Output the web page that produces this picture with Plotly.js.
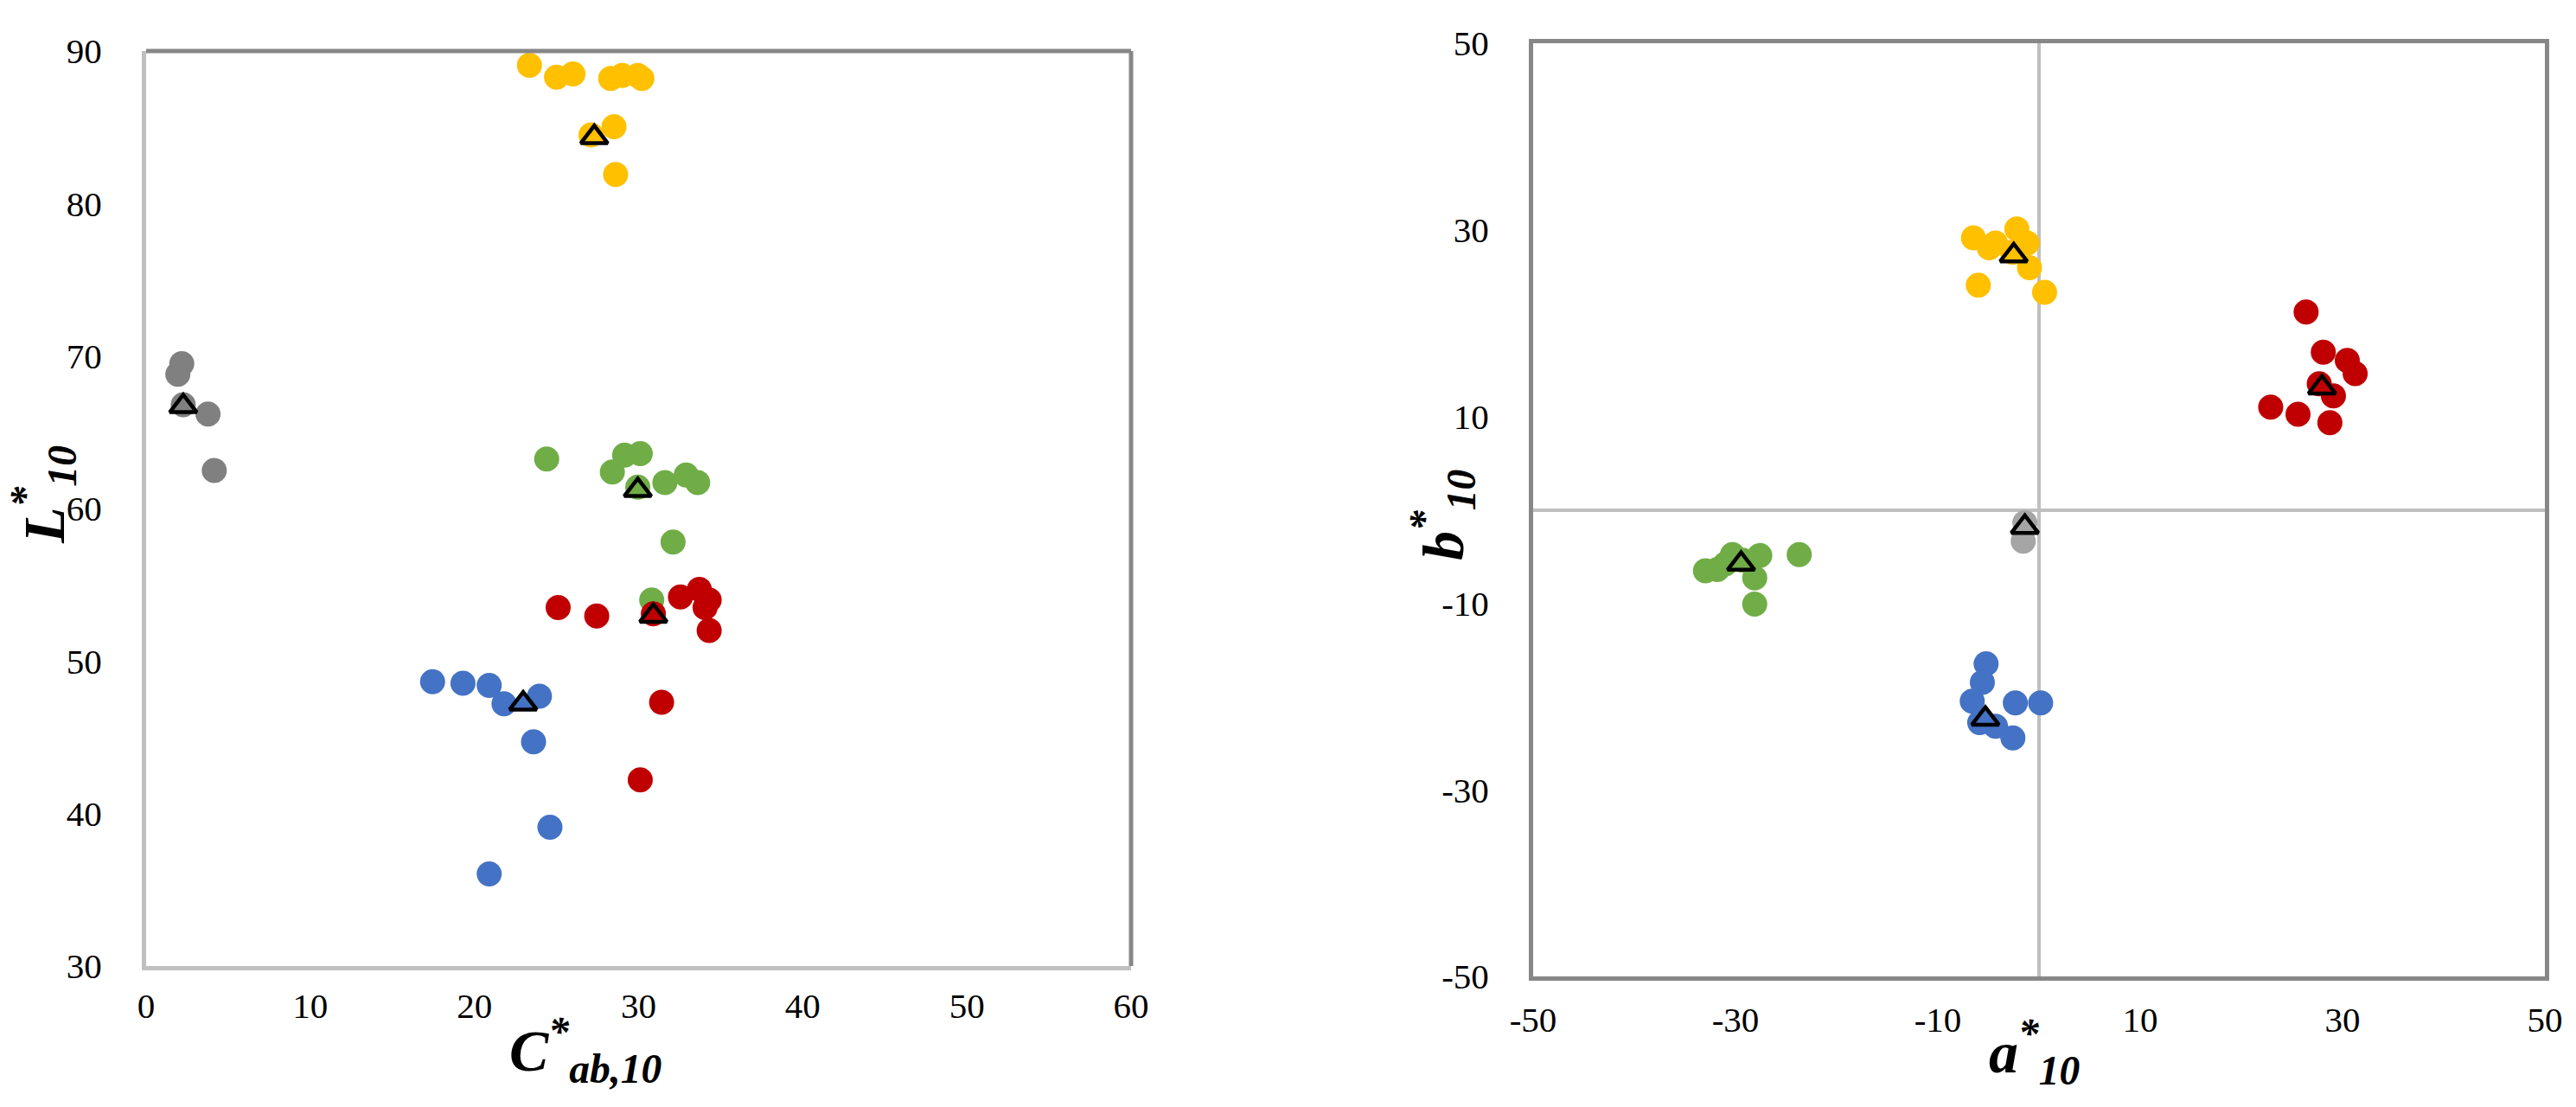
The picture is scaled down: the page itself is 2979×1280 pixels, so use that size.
<!DOCTYPE html>
<html>
<head>
<meta charset="utf-8">
<script src="https://cdn.plot.ly/plotly-3.0.1.min.js"></script>
<style>html,body{margin:0;padding:0;background:#fff;}#chart{width:2979px;height:1280px;}</style>
</head>
<body>
<div id="chart"></div>
<script>
// ---- Colours per group ----
const groupNames = ["Yellow", "Grey", "Green", "Red", "Blue"];
const groupColorsLeft = ["#FFC000", "#808080", "#70AD47", "#C00000", "#4472C4"];
const groupColorsRight = ["#FFC000", "#A5A5A5", "#70AD47", "#C00000", "#4472C4"];

// ---- Left chart: C*ab,10 (x) vs L*10 (y) ----
const yellowC = [23.35, 25.0, 26.0, 28.3, 29.0, 29.95, 30.2, 28.5, 27.1, 28.6];
const yellowL = [89.07, 88.28, 88.5, 88.2, 88.4, 88.4, 88.2, 85.04, 84.5, 81.9];
const greyC = [2.17, 1.93, 2.26, 3.77, 4.15];
const greyL = [69.5, 68.8, 66.8, 66.2, 62.5];
const greenC = [24.4, 28.4, 29.15, 30.1, 31.6, 32.9, 33.6, 29.95, 32.1, 30.8];
const greenL = [63.25, 62.4, 63.5, 63.6, 61.7, 62.2, 61.7, 61.4, 57.8, 54.0];
const redC = [25.1, 27.45, 30.9, 32.55, 33.7, 34.3, 34.05, 34.3, 31.4, 30.1];
const redL = [53.5, 52.96, 53.1, 54.2, 54.7, 54.0, 53.5, 52.0, 47.3, 42.2];
const blueC = [17.45, 19.3, 20.9, 21.8, 23.96, 23.6, 24.6, 20.9];
const blueL = [48.65, 48.55, 48.4, 47.2, 47.7, 44.7, 39.1, 36.04];
// group means (triangles)
const meanC = [27.3, 2.26, 29.95, 30.9, 22.97];
const meanL = [84.34, 66.7, 61.2, 52.96, 47.2];

// ---- Right chart: a*10 (x) vs b*10 (y) ----
const yellowA = [-6.48, -4.92, -4.3, -2.19, -1.17, -2.6, -0.94, -6.0, 0.55];
const yellowB = [29.14, 28.08, 28.6, 30.1, 28.6, 27.6, 25.96, 24.07, 23.3];
const greyA = [-1.4, -1.56];
const greyB = [-1.4, -3.36];
const greenA = [-32.97, -31.8, -31.0, -30.3, -29.3, -27.6, -28.1, -28.1, -23.7];
const greenB = [-6.54, -6.4, -5.8, -4.8, -5.4, -4.9, -7.3, -10.1, -4.8];
const redA = [26.4, 28.1, 30.47, 31.25, 27.7, 29.1, 22.9, 25.6, 28.75];
const redB = [21.2, 16.9, 16.0, 14.6, 13.5, 12.2, 11.0, 10.24, 9.33];
const blueA = [-5.23, -5.6, -6.6, -2.34, 0.16, -4.3, -2.58, -5.86];
const blueB = [-16.5, -18.5, -20.5, -20.7, -20.7, -23.2, -24.45, -22.8];
const meanA = [-2.5, -1.4, -29.45, 27.97, -5.3];
const meanB = [27.25, -1.85, -5.8, 13.1, -22.4];

// ---- Axis ticks ----
const leftXTicks = [0, 10, 20, 30, 40, 50, 60];
const leftYTicks = [30, 40, 50, 60, 70, 80, 90];
const rightTicks = [-50, -30, -10, 10, 30, 50];
const rightTickText = ["-50", "-30", "-10", "10", "30", "50"];

const leftXs = [yellowC, greyC, greenC, redC, blueC];
const leftYs = [yellowL, greyL, greenL, redL, blueL];
const rightXs = [yellowA, greyA, greenA, redA, blueA];
const rightYs = [yellowB, greyB, greenB, redB, blueB];

const traces = [];
const CIRC = 29;
groupNames.forEach((g, i) => {
  traces.push({x: leftXs[i], y: leftYs[i], xaxis: 'x', yaxis: 'y', type: 'scatter', mode: 'markers',
    name: g, showlegend: false, marker: {size: CIRC, color: groupColorsLeft[i], line: {width: 0}}});
});
groupNames.forEach((g, i) => {
  traces.push({x: rightXs[i], y: rightYs[i], xaxis: 'x2', yaxis: 'y2', type: 'scatter', mode: 'markers',
    name: g, showlegend: false, marker: {size: CIRC, color: groupColorsRight[i], line: {width: 0}}});
});
traces.push({x: meanC, y: meanL, xaxis: 'x', yaxis: 'y', type: 'scatter', mode: 'markers', name: 'mean',
  showlegend: false, marker: {symbol: 'triangle-up', size: 27, color: groupColorsLeft, line: {color: '#000', width: 4.5}}});
traces.push({x: meanA, y: meanB, xaxis: 'x2', yaxis: 'y2', type: 'scatter', mode: 'markers', name: 'mean',
  showlegend: false, marker: {symbol: 'triangle-up', size: 27, color: groupColorsRight, line: {color: '#000', width: 4.5}}});

const W = 2979, H = 1280;
const tickFont = {family: 'Liberation Serif, Times New Roman, serif', size: 41, color: '#000'};
const titleFont = {family: 'Liberation Serif, Times New Roman, serif', size: 68, color: '#000'};
const DARK = '#878787', LIGHT = '#BFBFBF';

const layout = {
  width: W, height: H,
  margin: {l: 0, r: 0, t: 0, b: 0},
  paper_bgcolor: '#fff', plot_bgcolor: '#fff',
  showlegend: false,
  xaxis: {domain: [169 / W, 1308 / W], range: [0, 60], tickvals: leftXTicks, showgrid: false, zeroline: false,
    showline: true, linecolor: LIGHT, linewidth: 5, ticks: '', tickfont: tickFont, ticklabelstandoff: 6, anchor: 'y'},
  yaxis: {domain: [163 / H, 1221 / H], range: [30, 90], tickvals: leftYTicks, showgrid: false, zeroline: false,
    showline: true, linecolor: LIGHT, linewidth: 5, ticks: '', tickfont: tickFont, ticklabelstandoff: 38, anchor: 'x'},
  xaxis2: {domain: [1773 / W, 2943 / W], range: [-50, 50], tickvals: rightTicks, ticktext: rightTickText, showgrid: false,
    zeroline: true, zerolinecolor: LIGHT, zerolinewidth: 4,
    showline: true, mirror: true, linecolor: DARK, linewidth: 5, ticks: '', tickfont: tickFont, ticklabelstandoff: 10, anchor: 'y2'},
  yaxis2: {domain: [151 / H, 1230 / H], range: [-50, 50], tickvals: rightTicks, ticktext: rightTickText, showgrid: false,
    zeroline: true, zerolinecolor: LIGHT, zerolinewidth: 4,
    showline: true, mirror: true, linecolor: DARK, linewidth: 5, ticks: '', tickfont: tickFont, ticklabelstandoff: 38, anchor: 'x2'},
  shapes: [
    {type: 'line', xref: 'x domain', yref: 'y domain', x0: 0, x1: 1, y0: 1, y1: 1, line: {color: DARK, width: 5}},
    {type: 'line', xref: 'x domain', yref: 'y domain', x0: 1, x1: 1, y0: 0, y1: 1, line: {color: DARK, width: 5}}
  ],
  annotations: [
    {xref: 'paper', yref: 'paper', x: 677 / W, y: 1 - 1214 / H, xanchor: 'center', yanchor: 'middle', showarrow: false,
      text: '<b><i>C</i></b><sup><b><i>*</i></b></sup><sub><b><i>ab,10</i></b></sub>', font: titleFont},
    {xref: 'paper', yref: 'paper', x: 50 / W, y: 1 - 572 / H, xanchor: 'center', yanchor: 'middle', showarrow: false, textangle: -90,
      text: '<b><i>L</i></b><sup><b><i>*</i></b></sup><sub><b><i>10</i></b></sub>', font: titleFont},
    {xref: 'paper', yref: 'paper', x: 2352 / W, y: 1 - 1216 / H, xanchor: 'center', yanchor: 'middle', showarrow: false,
      text: '<b><i>a</i></b><sup><b><i>*</i></b></sup><sub><b><i>10</i></b></sub>', font: titleFont},
    {xref: 'paper', yref: 'paper', x: 1668 / W, y: 1 - 596 / H, xanchor: 'center', yanchor: 'middle', showarrow: false, textangle: -90,
      text: '<b><i>b</i></b><sup><b><i>*</i></b></sup><sub><b><i>10</i></b></sub>', font: titleFont}
  ]
};

Plotly.newPlot('chart', traces, layout, {displayModeBar: false, staticPlot: true});
</script>
</body>
</html>
